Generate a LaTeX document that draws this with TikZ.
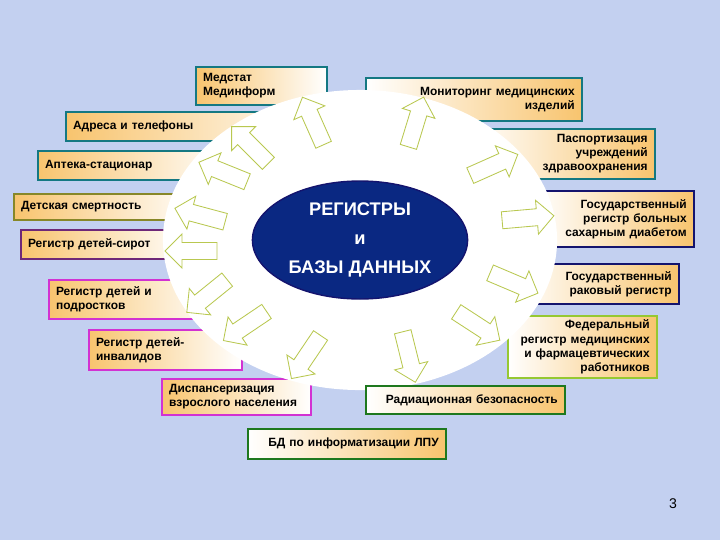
\documentclass[tikz,border=0pt]{standalone}
\usepackage{fontspec}
\setmainfont{Liberation Sans}
\usetikzlibrary{shapes.geometric}

\definecolor{slidebg}{RGB}{195,208,240}
\definecolor{boxorange}{RGB}{248,196,110}
\definecolor{boxteal}{RGB}{20,120,130}
\definecolor{boxolive}{RGB}{135,135,40}
\definecolor{boxpurple}{RGB}{110,40,120}
\definecolor{boxmagenta}{RGB}{210,50,210}
\definecolor{boxnavy}{RGB}{20,20,110}
\definecolor{boxlime}{RGB}{150,200,50}
\definecolor{boxgreen}{RGB}{30,120,30}
\definecolor{arrowgreen}{RGB}{185,200,80}
\definecolor{corefill}{RGB}{10,40,130}

\begin{document}
\begin{tikzpicture}[
    x=0.025cm, y=-0.025cm,
    regbox/.style={draw, line width=1.2pt, anchor=north west,
                   inner xsep=0.18cm, inner ysep=0pt,
                   font=\fontsize{8.5}{10}\selectfont\bfseries},
    lbox/.style={regbox, left color=boxorange, right color=white, align=left},
    rbox/.style={regbox, left color=white, right color=boxorange, align=right},
    barrow/.style={draw=arrowgreen, fill=white, line width=0.6pt}
]
    \fill[slidebg] (0,0) rectangle (720,540);
    \useasboundingbox (0,0) rectangle (720,540);

    % left side
    \node[lbox, draw=boxteal, minimum height=0.95cm, text width=2.915cm] (medstat) at (195,66) {Медстат\\Мединформ};
    \node[lbox, draw=boxteal, minimum height=0.725cm, text width=6.265cm] (adresa) at (65,111) {Адреса и телефоны};
    \node[lbox, draw=boxteal, minimum height=0.725cm, text width=4.465cm] (apteka) at (37,150) {Аптека-стационар};
    \node[lbox, draw=boxolive, minimum height=0.65cm, text width=4.315cm] (smert) at (13,193) {Детская смертность};
    \node[lbox, draw=boxpurple, minimum height=0.725cm, text width=3.89cm] (sirot) at (20,229) {Регистр детей-сирот};
    \node[lbox, draw=boxmagenta, minimum height=0.975cm, text width=3.94cm] (podrost) at (48,279) {Регистр детей и\\подростков};
    \node[lbox, draw=boxmagenta, minimum height=1.0cm, text width=3.465cm] (invalid) at (88,329) {Регистр детей-\\инвалидов};
    \node[lbox, draw=boxmagenta, minimum height=0.9cm, text width=3.365cm] (dispans) at (161,378) {Диспансеризация\\взрослого населения};

    % right side
    \node[rbox, draw=boxteal, minimum height=1.075cm, text width=5.04cm] (monitor) at (365,77) {Мониторинг медицинских\\изделий};
    \node[rbox, draw=boxteal, minimum height=1.25cm, text width=4.24cm] (pasport) at (470,128) {Паспортизация\\учреждений\\здравоохранения};
    \node[rbox, draw=boxnavy, minimum height=1.4cm, text width=3.59cm] (sahar) at (535,190) {Государственный\\регистр больных\\сахарным диабетом};
    \node[rbox, draw=boxnavy, minimum height=1.0cm, text width=3.715cm] (rak) at (515,263) {Государственный\\раковый регистр};
    \node[rbox, draw=boxlime, minimum height=1.55cm, text width=3.365cm] (feder) at (507,315) {Федеральный\\регистр медицинских\\и фармацевтических\\работников};

    % white disk
    \node[ellipse, fill=white, minimum width=9.85cm, minimum height=7.5cm] (disk) at (360,240) {};

    \node[rbox, draw=boxgreen, minimum height=0.7cm, text width=4.615cm] (radiac) at (365,385) {Радиационная безопасность};
    \node[rbox, draw=boxgreen, minimum height=0.75cm, text width=4.59cm] (lpu) at (247,428) {БД по информатизации ЛПУ};

    % hollow arrows
    \foreach \x/\y/\a in {313/121/114, 416/122/73, 494/165/24, 528/218/5,
                          514/283/-23, 478/326/-33, 409/357/-76, 306/357/-124,
                          245/326/-146, 207/296/-141, 191/251/180, 200/215/165,
                          223/172/158, 250/145/135}
        \draw[barrow, shift={(\x,\y)}, rotate=\a]
            (-26,-8.5) -- (9,-8.5) -- (9,-17) -- (26,0) -- (9,17) -- (9,8.5) -- (-26,8.5) -- cycle;

    % core
    \node[ellipse, draw=boxnavy, line width=1pt, fill=corefill, text=white,
          minimum width=4.85cm, minimum height=2.85cm, align=center,
          font=\fontsize{13}{20.5}\selectfont\bfseries] (core) at (360,240)
          {РЕГИСТРЫ\\и\\БАЗЫ ДАННЫХ};

    \node[font=\fontsize{10}{12}\selectfont] (pagenum) at (673,504) {3};
\end{tikzpicture}
\end{document}
